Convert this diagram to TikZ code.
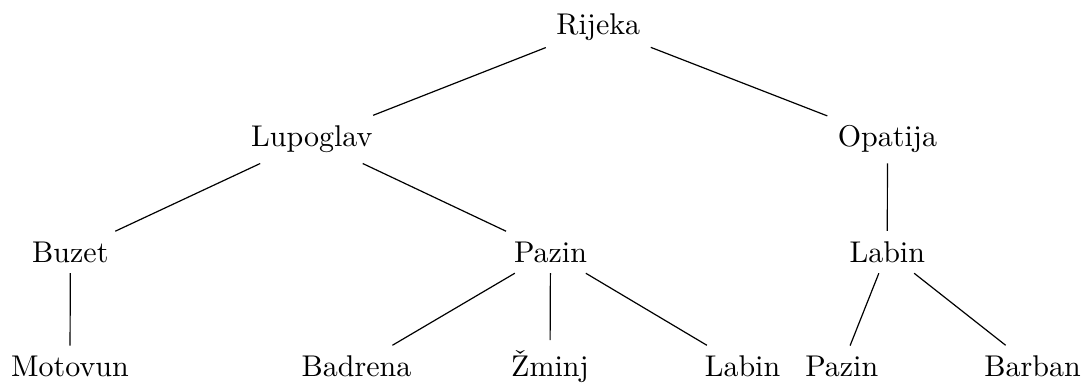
\documentclass[tikz,border=0pt]{standalone}
\begin{document}
\begin{tikzpicture}[town/.style={anchor=base}]
\useasboundingbox (0,0) rectangle (12.746,-4.499);

\node[town] (rijeka) at (7.009,-0.402) {Rijeka};

\node[town] (lupoglav) at (3.652,-1.719) {Lupoglav};
\node[town] (opatija) at (10.397,-1.719) {Opatija};

\node[town] (buzet) at (0.824,-3.073) {Buzet};
\node[town] (pazin) at (6.449,-3.073) {Pazin};
\node[town] (labin) at (10.394,-3.073) {Labin};

\node[town] (motovun) at (0.820,-4.413) {Motovun};
\node[town] (badrena) at (4.176,-4.413) {Badrena};
\node[town] (zminj) at (6.443,-4.413) {\v{Z}minj};
\node[town] (labinb) at (8.698,-4.413) {Labin};
\node[town] (pazinb) at (9.861,-4.413) {Pazin};
\node[town] (barban) at (12.096,-4.413) {Barban};

%-------------------------------------
\draw (rijeka) -- (lupoglav);
\draw (rijeka) -- (opatija);
\draw (lupoglav) -- (buzet);
\draw (lupoglav) -- (pazin);
\draw (opatija) -- (labin);
\draw (buzet) -- (motovun);
\draw (pazin) -- (badrena);
\draw (pazin) -- (zminj);
\draw (pazin) -- (labinb);
\draw (labin) -- (pazinb);
\draw (labin) -- (barban);

\end{tikzpicture}
\end{document}
